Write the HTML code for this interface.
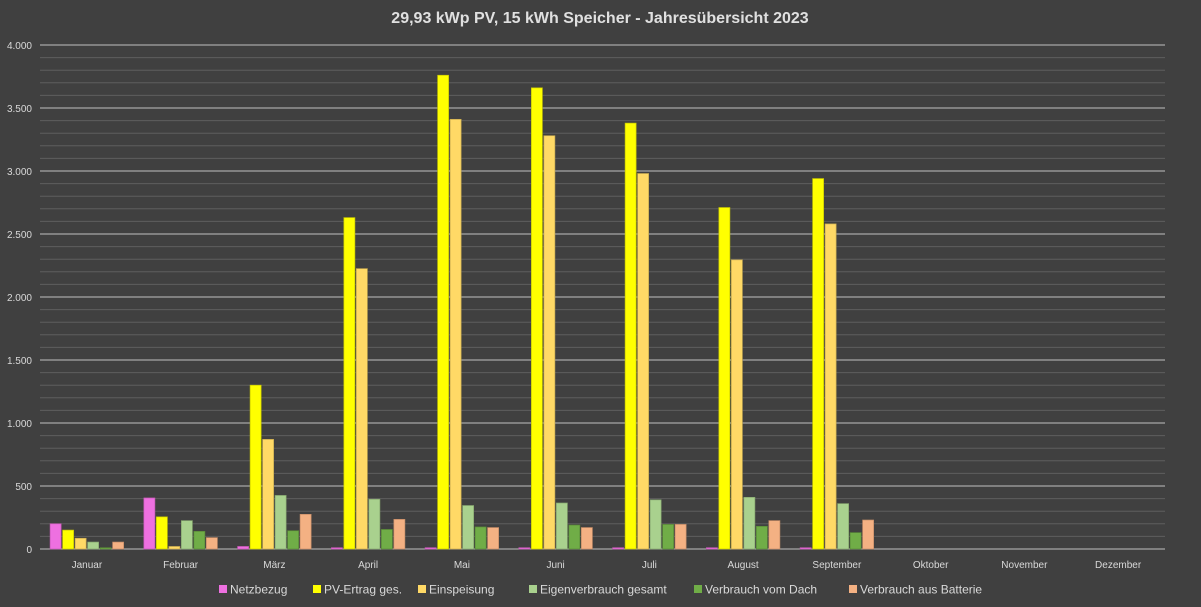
<!DOCTYPE html>
<html><head><meta charset="utf-8"><style>
body{margin:0;background:#404040;}
svg{display:block;font-family:"Liberation Sans",sans-serif;}
</style></head><body>
<svg id="c" width="1201" height="607">
<rect width="1201" height="607" fill="#404040"/>
<text x="600" y="23" text-anchor="middle" fill="#e0e0e0" font-size="16" font-weight="bold">29,93 kWp PV, 15 kWh Speicher - Jahresübersicht 2023</text>
<g id="grid"></g><g id="bars"></g><g id="xl"></g><g id="leg"></g>
</svg>
<script>
const categories=["Januar","Februar","März","April","Mai","Juni","Juli","August","September","Oktober","November","Dezember"];
const seriesNames=["Netzbezug","PV-Ertrag ges.","Einspeisung","Eigenverbrauch gesamt","Verbrauch vom Dach","Verbrauch aus Batterie"];
const netzbezug=[200,405,20,10,10,10,10,10,10,0,0,0];
const pvErtrag=[150,255,1300,2630,3760,3660,3380,2710,2940,0,0,0];
const einspeisung=[85,20,870,2225,3410,3280,2980,2295,2580,0,0,0];
const eigenverbrauch=[55,225,425,395,345,365,390,410,360,0,0,0];
const vomDach=[10,140,145,155,175,190,195,180,130,0,0,0];
const ausBatterie=[55,90,275,235,170,170,195,225,230,0,0,0];
const yTicks=[0,500,1000,1500,2000,2500,3000,3500,4000];
const yTickLabels=["0","500","1.000","1.500","2.000","2.500","3.000","3.500","4.000"];
const series=[netzbezug,pvErtrag,einspeisung,eigenverbrauch,vomDach,ausBatterie];
const colors=["#ee70e0","#ffff00","#ffd966","#a9d18e","#70ad47","#f4b183"];
const strokes=["#c85ab8","#c8c800","#c8aa50","#88a870","#5a8a38","#c88e68"];
const NS="http://www.w3.org/2000/svg";
const X0=40,X1=1165,Y0=549,Y1=45,YMAX=4000;
const y=v=>Y0-(v/YMAX)*(Y0-Y1);
const cw=(X1-X0)/categories.length;
const x=i=>X0+cw*i;
function mk(t,a,p){const e=document.createElementNS(NS,t);for(const k in a)e.setAttribute(k,a[k]);p.appendChild(e);return e;}
const g=document.getElementById('grid');
for(let v=100;v<YMAX;v+=100){if(v%500===0)continue;
const l=mk('line',{x1:X0,x2:X1,y1:y(v),y2:y(v),stroke:'#5e5e5e','stroke-width':1},g);

}
yTicks.forEach((v,i)=>{
const l=mk('line',{x1:X0,x2:X1,y1:y(v),y2:y(v),stroke:'#bfbfbf','stroke-width':1},g);


const t=mk('text',{x:32,y:y(v)+4,'text-anchor':'end',fill:'#d9d9d9','font-size':10},g);
t.textContent=yTickLabels[i];

});
const b=document.getElementById('bars');
const bw=11,gap=1.5,groupW=6*bw+5*gap;
categories.forEach((c,i)=>{
const start=x(i)+(cw-groupW)/2;
series.forEach((s,j)=>{const v=s[i];if(v<=0)return;
const r=mk('rect',{x:start+j*(bw+gap),y:y(v),width:bw,height:Y0-y(v),fill:colors[j],stroke:strokes[j],'stroke-width':0.7},b);

});
const t=mk('text',{x:x(i)+cw/2,y:568,'text-anchor':'middle',fill:'#d9d9d9','font-size':10},document.getElementById('xl'));
t.textContent=c;

});
const lg=document.getElementById('leg');
const lx=[219,313,418,529,694,849];
seriesNames.forEach((n,j)=>{
const r=mk('rect',{x:lx[j],y:585,width:8,height:8,fill:colors[j]},lg);


const t=mk('text',{x:lx[j]+11,y:593.5,fill:'#d9d9d9','font-size':12},lg);
t.textContent=n;

});
</script>
</body></html>
